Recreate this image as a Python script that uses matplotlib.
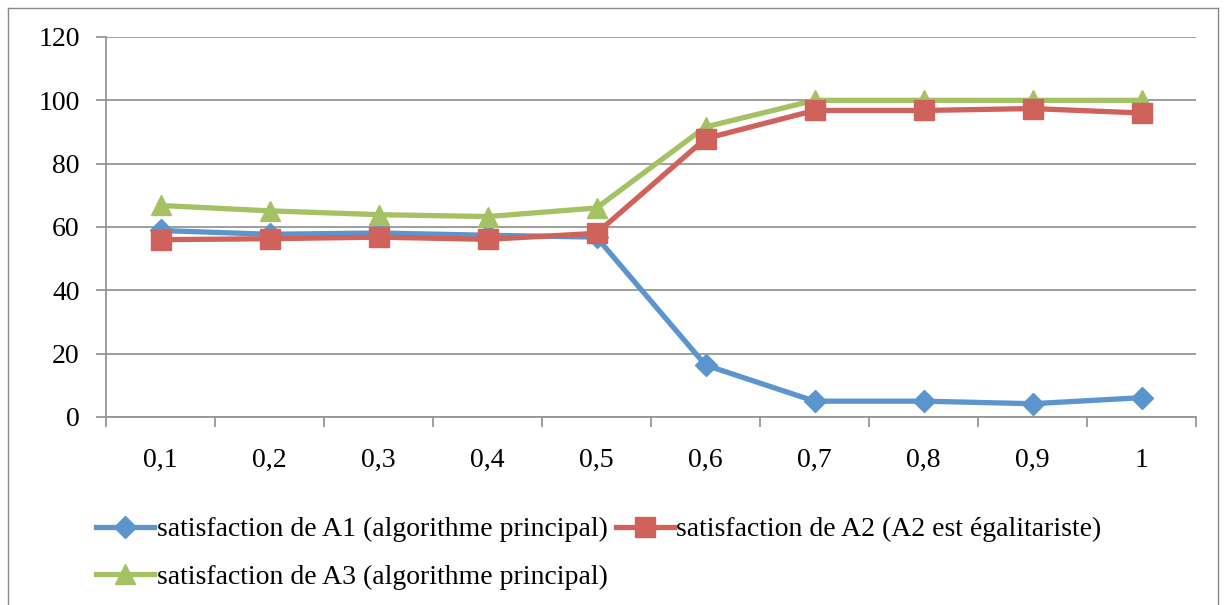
import matplotlib.pyplot as plt
from matplotlib.lines import Line2D

plt.rcParams['font.family'] = ['Liberation Serif', 'DejaVu Serif']

categories = ['0,1', '0,2', '0,3', '0,4', '0,5', '0,6', '0,7', '0,8', '0,9', '1']
a1 = [58.9, 57.7, 58.1, 57.4, 56.8, 16.4, 5.0, 5.0, 4.2, 6.1]
a2 = [56.0, 56.3, 56.8, 56.1, 58.0, 87.9, 96.8, 96.8, 97.4, 96.0]
a3 = [66.8, 65.1, 63.9, 63.3, 66.0, 91.6, 100, 100, 100, 100]
labels = ['satisfaction de A1 (algorithme principal)',
          'satisfaction de A2 (A2 est égalitariste)',
          'satisfaction de A3 (algorithme principal)']

blue = '#5B95CE'
red = '#CF625B'
green = '#A4C263'
grid = '#969696'

fig = plt.figure(figsize=(12.25, 6.05), dpi=100)
ax = fig.add_axes([106 / 1225, 1 - 417 / 605, 1090 / 1225, 380 / 605])

x = list(range(len(categories)))
l1, = ax.plot(x, a1, color=blue, lw=3.8, marker='D', ms=11, mec=blue, zorder=3)
l2, = ax.plot(x, a2, color=red, lw=3.8, marker='s', ms=14, mec=red, zorder=4)
l3, = ax.plot(x, a3, color=green, lw=3.8, marker='^', ms=15, mec=green, zorder=3)

ax.set_xlim(-0.5, len(categories) - 0.5)
ax.set_ylim(0, 120)
ax.set_yticks(range(0, 121, 20))
ax.set_xticks(x)
ax.set_xticklabels(categories)
ax.set_xticks([i - 0.5 for i in range(len(categories) + 1)], minor=True)
ax.tick_params(axis='x', which='major', length=0, pad=22, labelsize=20)
ax.tick_params(axis='x', which='minor', length=7, width=1.3, color=grid, direction='out')
ax.tick_params(axis='y', length=7, width=1.3, color=grid, pad=12, labelsize=20)
ax.yaxis.grid(True, color=grid, lw=1.3)
ax.set_axisbelow(True)
for s in ['top', 'right']:
    ax.spines[s].set_visible(False)
for s in ['left', 'bottom']:
    ax.spines[s].set_color(grid)
    ax.spines[s].set_linewidth(1.3)

fig.legend([l1, l3, l2], [labels[0], labels[2], labels[1]], ncol=2,
           loc='upper left', bbox_to_anchor=(96 / 1225, 1 - 517 / 605),
           frameon=False, fontsize=20, handlelength=2.1, handletextpad=0.08,
           columnspacing=0.3, labelspacing=0.78, borderaxespad=0, borderpad=0)

# outer chart border
fig.add_artist(Line2D([8 / 1225, 8 / 1225], [0, 1 - 8 / 605], transform=fig.transFigure, color='#888888', lw=1))
fig.add_artist(Line2D([8 / 1225, 1218 / 1225], [1 - 8 / 605, 1 - 8 / 605], transform=fig.transFigure, color='#888888', lw=1))
fig.add_artist(Line2D([1218 / 1225, 1218 / 1225], [0, 1 - 8 / 605], transform=fig.transFigure, color='#888888', lw=1))

fig.savefig('out.png', dpi=100)
